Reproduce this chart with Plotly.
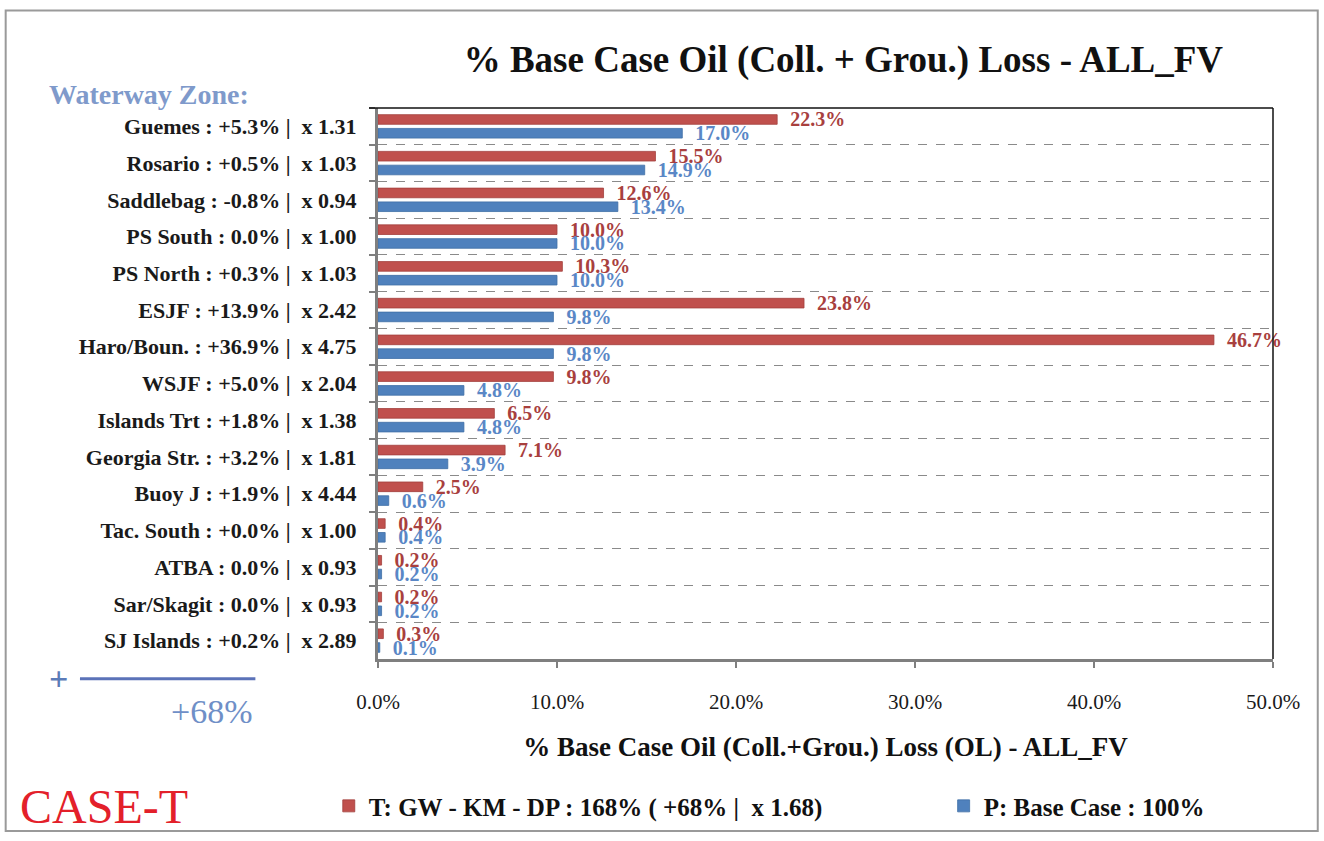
import plotly.graph_objects as go

# Waterway zones, top to bottom, with change and ratio annotations
zones = [
    "Guemes : +5.3% |  x 1.31",
    "Rosario : +0.5% |  x 1.03",
    "Saddlebag : -0.8% |  x 0.94",
    "PS South : 0.0% |  x 1.00",
    "PS North : +0.3% |  x 1.03",
    "ESJF : +13.9% |  x 2.42",
    "Haro/Boun. : +36.9% |  x 4.75",
    "WSJF : +5.0% |  x 2.04",
    "Islands Trt : +1.8% |  x 1.38",
    "Georgia Str. : +3.2% |  x 1.81",
    "Buoy J : +1.9% |  x 4.44",
    "Tac. South : +0.0% |  x 1.00",
    "ATBA : 0.0% |  x 0.93",
    "Sar/Skagit : 0.0% |  x 0.93",
    "SJ Islands : +0.2% |  x 2.89",
]

# % base case oil loss per zone
case_t = [22.3, 15.5, 12.6, 10.0, 10.3, 23.8, 46.7, 9.8, 6.5, 7.1, 2.5, 0.4, 0.2, 0.2, 0.3]
base_p = [17.0, 14.9, 13.4, 10.0, 10.0, 9.8, 9.8, 4.8, 4.8, 3.9, 0.6, 0.4, 0.2, 0.2, 0.1]

x_ticks = [0, 10, 20, 30, 40, 50]
x_tick_labels = [f"{v:.1f}%" for v in x_ticks]

name_t = "T: GW - KM - DP : 168% ( +68% |  x 1.68)"
name_p = "P: Base Case : 100%"

SERIF = "Liberation Serif"
RED = "#C0504D"
BLUE = "#4F81BD"

fig = go.Figure()
fig.add_trace(go.Bar(
    y=zones, x=case_t, orientation="h", name=name_t, legend="legend",
    marker=dict(color=RED, line=dict(color="#A23F3C", width=0.8)),
    text=[f"  {v:.1f}%" for v in case_t], textposition="outside",
    constraintext="none", cliponaxis=False,
    textfont=dict(family=SERIF, size=20, color="#A8403E", weight="bold"),
))
fig.add_trace(go.Bar(
    y=zones, x=base_p, orientation="h", name=name_p, legend="legend2",
    marker=dict(color=BLUE, line=dict(color="#3F6EA6", width=0.8)),
    text=[f"  {v:.1f}%" for v in base_p], textposition="outside",
    constraintext="none", cliponaxis=False,
    textfont=dict(family=SERIF, size=20, color="#5A87C6", weight="bold"),
))

legend_font = dict(family=SERIF, size=25, color="#111111", weight="bold")

fig.update_layout(
    width=1324, height=841,
    margin=dict(l=378, r=51, t=108, b=179),
    paper_bgcolor="white", plot_bgcolor="white",
    barmode="group", bargap=0.25, bargroupgap=0.3,
    font=dict(family=SERIF, color="#1a1a1a"),
    title=dict(
        text="% Base Case Oil (Coll. + Grou.) Loss - ALL_FV",
        x=0.52, xref="paper", xanchor="center", y=0.93, yanchor="middle",
        font=dict(family=SERIF, size=37, color="#111111", weight="bold"),
    ),
    showlegend=True,
    legend=dict(
        orientation="h", x=-0.055, xanchor="left", y=-0.267, yanchor="middle",
        font=legend_font, itemwidth=30, bgcolor="rgba(0,0,0,0)",
    ),
    legend2=dict(
        orientation="h", x=0.632, xanchor="left", y=-0.267, yanchor="middle",
        font=legend_font, itemwidth=30, bgcolor="rgba(0,0,0,0)",
    ),
)

fig.update_xaxes(
    range=[0, 50], tickvals=x_ticks, ticktext=x_tick_labels,
    showgrid=False, zeroline=False,
    showline=True, linecolor="#7f7f7f", linewidth=3,
    ticks="outside", ticklen=6, tickwidth=2, tickcolor="#7f7f7f",
    tickfont=dict(family=SERIF, size=21, color="#1a1a1a"),
    ticklabelstandoff=16,
    title=dict(text="% Base Case Oil (Coll.+Grou.) Loss (OL) - ALL_FV",
               font=dict(family=SERIF, size=27, color="#111111", weight="bold"),
               standoff=24),
)
fig.update_yaxes(
    type="category", autorange="reversed", tickson="boundaries",
    showgrid=True, gridcolor="#8a8a8a", gridwidth=1.3, griddash="dash",
    showline=True, linecolor="#7f7f7f", linewidth=3,
    ticks="outside", ticklen=6, tickwidth=2, tickcolor="#7f7f7f",
    tickfont=dict(family=SERIF, size=22, color="#1a1a1a", weight="bold"),
    ticklabelstandoff=14,
)

# Thin black border on top and right of the plot area
fig.add_shape(type="line", xref="x domain", yref="y domain",
              x0=-0.01, x1=1, y0=1, y1=1, line=dict(color="#111111", width=1.5))
fig.add_shape(type="line", xref="x domain", yref="y domain",
              x0=1, x1=1, y0=0, y1=1, line=dict(color="#111111", width=1.5))

# Outer frame around the whole chart
fig.add_shape(type="rect", xref="paper", yref="paper",
              x0=-0.416, x1=1.050, y0=-0.312, y1=1.177,
              line=dict(color="#9a9a9a", width=2), fillcolor="rgba(0,0,0,0)",
              layer="below")

# Side notes
fig.add_annotation(text="Waterway Zone:", xref="paper", yref="paper",
                   x=-0.37, y=1.025, xanchor="left", yanchor="middle",
                   showarrow=False,
                   font=dict(family=SERIF, size=28, color="#7F9ACB", weight="bold"))
fig.add_annotation(text="+", xref="paper", yref="paper",
                   x=-0.357, y=-0.036, xanchor="center", yanchor="middle",
                   showarrow=False,
                   font=dict(family=SERIF, size=34, color="#5B7BB8", weight="bold"))
fig.add_shape(type="line", xref="paper", yref="paper",
              x0=-0.333, x1=-0.137, y0=-0.036, y1=-0.036,
              line=dict(color="#5B72B8", width=3))
fig.add_annotation(text="+68%", xref="paper", yref="paper",
                   x=-0.137, y=-0.095, xanchor="right", yanchor="middle",
                   showarrow=False,
                   font=dict(family=SERIF, size=34, color="#6F8FC7"))
fig.add_annotation(text="CASE-T", xref="paper", yref="paper",
                   x=-0.402, y=-0.268, xanchor="left", yanchor="middle",
                   showarrow=False,
                   font=dict(family=SERIF, size=48, color="#E3202A"))

fig.write_html("out.html")
